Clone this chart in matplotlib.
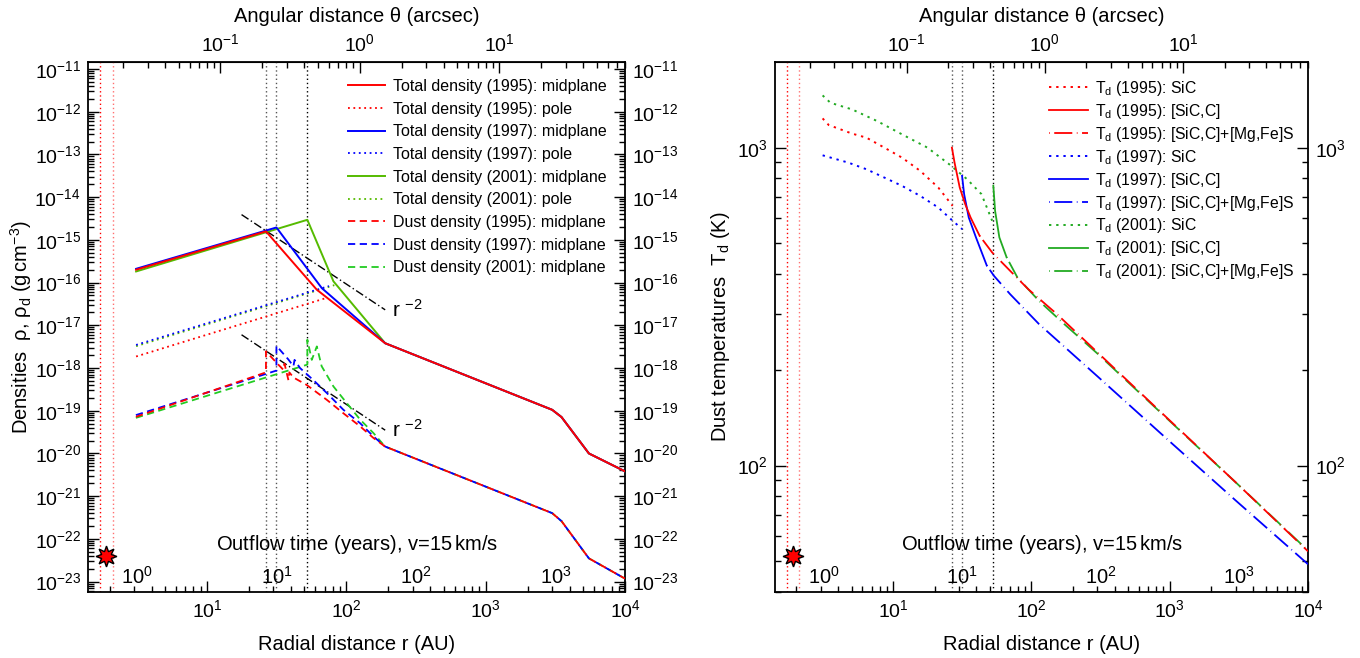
import numpy as np
import matplotlib
matplotlib.use('Agg')
import matplotlib.pyplot as plt
import matplotlib.transforms as mtransforms
from matplotlib.ticker import LogLocator, NullFormatter, FixedLocator

plt.rcParams['font.family'] = ['Liberation Sans', 'DejaVu Sans']
plt.rcParams['mathtext.fontset'] = 'custom'
plt.rcParams['mathtext.rm'] = 'Liberation Sans'
plt.rcParams['mathtext.it'] = 'Liberation Sans:italic'
plt.rcParams['mathtext.bf'] = 'Liberation Sans:bold'

# ---------------- data: left panel (densities, g cm^-3 vs r in AU) ----------------
tot95_r = [3.1, 26.5, 61.4, 190, 3000, 3500, 5500, 10000]
tot95_rho = [2.0e-16, 1.58e-15, 6.8e-17, 3.8e-18, 1.05e-19, 7.1e-20, 1.0e-20, 3.8e-21]
tot97_r = [3.1, 31.5, 66.7, 190, 3000, 3500, 5500, 10000]
tot97_rho = [2.1e-16, 1.95e-15, 7.4e-17, 3.8e-18, 1.05e-19, 7.1e-20, 1.0e-20, 3.8e-21]
tot01_r = [3.1, 52.5, 80.8, 190, 3000, 3500, 5500, 10000]
tot01_rho = [1.82e-16, 2.95e-15, 1.07e-16, 3.8e-18, 1.05e-19, 7.1e-20, 1.0e-20, 3.8e-21]

pole95_r = [3.1, 72.5]
pole95_rho = [1.86e-18, 4.4e-17]
pole97_r = [3.1, 75]
pole97_rho = [3.47e-18, 8.3e-17]
pole01_r = [3.1, 82]
pole01_rho = [3.24e-18, 8.7e-17]

dust95_r = [3.09, 26.5, 26.5, 32.5, 35.3, 36.0, 38.4, 39.0, 41.7, 52.0, 72.4, 95.3,
            125.6, 156.5, 189.7, 3000, 3500, 5500, 10000]
dust95_rho = [7.2e-20, 7.9e-19, 2.45e-18, 1.2e-18, 9.1e-19, 1.26e-18, 5.2e-19, 7.9e-19,
              6.0e-19, 4.0e-19, 1.8e-19, 8.7e-20, 4.3e-20, 2.3e-20, 1.45e-20,
              4.0e-22, 2.6e-22, 3.5e-23, 1.17e-23]
dust97_r = [3.09, 31.5, 31.5, 38.4, 41.7, 42.5, 46.5, 58, 72.4, 95.3, 125.6, 156.5,
            189.7, 3000, 3500, 5500, 10000]
dust97_rho = [7.9e-20, 8.7e-19, 3.3e-18, 1.58e-18, 1.1e-18, 1.55e-18, 1.0e-18, 5.2e-19,
              2.6e-19, 1.05e-19, 5.1e-20, 2.5e-20, 1.45e-20, 4.0e-22, 2.6e-22, 3.5e-23, 1.17e-23]
dust01_r = [3.09, 52.5, 52.5, 56.5, 61.4, 66.5, 80.8, 100, 125.6, 156.5, 189.7,
            3000, 3500, 5500, 10000]
dust01_rho = [6.8e-20, 1.2e-18, 4.6e-18, 1.55e-18, 3.2e-18, 1.1e-18, 3.7e-19, 1.55e-19,
              6.2e-20, 3.0e-20, 1.45e-20, 4.0e-22, 2.6e-22, 3.5e-23, 1.17e-23]

# r^-2 guide lines
guide_r = [17.7, 190]
guide_hi = [3.9e-15, 2.3e-17]
guide_lo = [6.0e-18, 3.5e-20]

# ---------------- data: right panel (dust temperatures, K) ----------------
sic95_r = [3.09, 3.42, 5.05, 6.41, 8.64, 11.6, 15.7, 21.2, 26.9]
sic95_T = [1236, 1178, 1107, 1075, 1000, 930, 845, 749, 656]
c95_r = [26.6, 27.8, 30.3, 33.2, 36.3, 42.2]
c95_T = [1000, 897, 749, 664, 603, 528]
mg95_r = [42.2, 52, 70, 94.6, 152, 300, 1000, 3000, 10000]
mg95_T = [528, 468, 410, 359, 300, 227, 138.6, 88.5, 53.7]

sic97_r = [3.09, 4.75, 6.41, 8.64, 11.6, 15.7, 21.2, 26.9, 31.6]
sic97_T = [946, 897, 855, 805, 758, 705, 648, 589, 554]
c97_r = [31.5, 32.6, 35.2, 39.7, 47.5]
c97_T = [815, 714, 603, 522, 426]
mg97_r = [47.5, 53.6, 70.1, 113, 300, 1000, 3000, 10000]
mg97_T = [426, 395, 346, 279, 190.8, 119, 77.6, 48.9]

sic01_r = [3.09, 3.52, 5.05, 7.67, 11.6, 17.7, 25.4, 34.2, 43.5, 52]
sic01_T = [1460, 1384, 1319, 1212, 1101, 1000, 887, 796, 714, 589]
c01_r = [53, 54.6, 58.6, 66.1]
c01_T = [759, 632, 522, 452]
mg01_r = [66.1, 79, 113, 172, 300, 1000, 3000, 10000]
mg01_T = [452, 391, 330, 279, 225, 138, 88.5, 54]

# markers and reference lines (AU)
star_r = 1.9
rstar_lines = [1.7, 2.1]
shell_lines = [26.5, 31.5, 52.5]
outflow_years = [1, 10, 100, 1000]
au_per_year = 3.164        # 15 km/s
dist_pc = 125.0
rho_ticks = [10.0 ** k for k in range(-23, -10)]
T_ticks = [100, 1000]

red = '#ff0000'
blue = '#0000ff'
green_tot = '#55bb00'
green_dust = '#22cc22'
green_T = '#22aa22'

fig = plt.figure(figsize=(13.6, 6.58), dpi=100)
ax1 = fig.add_axes([0.0647, 0.1003, 0.3949, 0.8055])
ax2 = fig.add_axes([0.5699, 0.1003, 0.3919, 0.8055])
for ax in (ax1, ax2):
    ax.set_xscale('log')
    ax.set_yscale('log')

dot = (0, (1, 2))
dash = (0, (4, 2.5))
longdash = (0, (0.4, 2.5, 10, 2.5))

# left panel
ax1.plot(tot95_r, tot95_rho, color=red, lw=1.4, zorder=5, label='Total density (1995): midplane')
ax1.plot(pole95_r, pole95_rho, color=red, lw=1.3, ls=dot, zorder=5, label='Total density (1995): pole')
ax1.plot(tot97_r, tot97_rho, color=blue, lw=1.4, zorder=4, label='Total density (1997): midplane')
ax1.plot(pole97_r, pole97_rho, color=blue, lw=1.3, ls=dot, zorder=4, label='Total density (1997): pole')
ax1.plot(tot01_r, tot01_rho, color=green_tot, lw=1.4, zorder=3, label='Total density (2001): midplane')
ax1.plot(pole01_r, pole01_rho, color=green_tot, lw=1.3, ls=dot, zorder=3, label='Total density (2001): pole')
ax1.plot(dust95_r, dust95_rho, color=red, lw=1.3, ls=dash, zorder=5, label='Dust density (1995): midplane')
ax1.plot(dust97_r, dust97_rho, color=blue, lw=1.3, ls=dash, zorder=4, label='Dust density (1997): midplane')
ax1.plot(dust01_r, dust01_rho, color=green_dust, lw=1.3, ls=dash, zorder=3, label='Dust density (2001): midplane')

ax1.plot(guide_r, guide_hi, color='black', lw=1.0, ls=(0, (6, 2, 1, 2)))
ax1.plot(guide_r, guide_lo, color='black', lw=1.0, ls=(0, (6, 2, 1, 2)))
ax1.text(guide_r[1] * 1.12, guide_hi[1], r'r $^{-2}$', fontsize=15, va='center', ha='left')
ax1.text(guide_r[1] * 1.12, guide_lo[1], r'r $^{-2}$', fontsize=15, va='center', ha='left')

ax1.set_xlim(1.4, 1e4)
ax1.set_ylim(5.7e-24, 1.46e-11)
ax1.set_ylabel(r'Densities  ρ, ρ$_\mathrm{d}$ (g$\,$cm$^{-3}$)', fontsize=14.5, labelpad=0)
ax1.yaxis.set_major_locator(FixedLocator(rho_ticks))

# right panel
ax2.plot(sic95_r, sic95_T, color=red, lw=1.4, ls=(0, (1.2, 2.5)), zorder=5, label=r'T$_\mathrm{d}$ (1995): SiC')
ax2.plot(c95_r, c95_T, color=red, lw=1.3, zorder=5, label=r'T$_\mathrm{d}$ (1995): [SiC,C]')
ax2.plot(mg95_r, mg95_T, color=red, lw=1.3, ls=longdash, zorder=5, label=r'T$_\mathrm{d}$ (1995): [SiC,C]+[Mg,Fe]S')
ax2.plot(sic97_r, sic97_T, color=blue, lw=1.4, ls=(0, (1.2, 2.5)), zorder=4, label=r'T$_\mathrm{d}$ (1997): SiC')
ax2.plot(c97_r, c97_T, color=blue, lw=1.3, zorder=4, label=r'T$_\mathrm{d}$ (1997): [SiC,C]')
ax2.plot(mg97_r, mg97_T, color=blue, lw=1.3, ls=longdash, zorder=4, label=r'T$_\mathrm{d}$ (1997): [SiC,C]+[Mg,Fe]S')
ax2.plot(sic01_r, sic01_T, color=green_T, lw=1.4, ls=(0, (1.2, 2.5)), zorder=3, label=r'T$_\mathrm{d}$ (2001): SiC')
ax2.plot(c01_r, c01_T, color=green_T, lw=1.3, zorder=3, label=r'T$_\mathrm{d}$ (2001): [SiC,C]')
ax2.plot(mg01_r, mg01_T, color=green_T, lw=1.3, ls=longdash, zorder=3, label=r'T$_\mathrm{d}$ (2001): [SiC,C]+[Mg,Fe]S')

ax2.set_xlim(1.4, 1e4)
ax2.set_ylim(40, 1860)
ax2.set_ylabel(r'Dust temperatures  T$_\mathrm{d}$ (K)', fontsize=14.5, labelpad=4)
ax2.yaxis.set_major_locator(FixedLocator(T_ticks))

for ax in (ax1, ax2):
    for r in rstar_lines:
        ax.axvline(r, color=red if r == rstar_lines[0] else '#ff7070', lw=1.0, ls=dot, zorder=1)
    for i, r in enumerate(shell_lines):
        ax.axvline(r, color='#555555' if i < 2 else 'black', lw=1.0, ls=dot, zorder=1)

    trans = mtransforms.blended_transform_factory(ax.transData, ax.transAxes)
    ax.plot([star_r], [0.068], transform=trans, marker=(8, 1, 0), ms=15, mfc=red,
            mec='black', mew=1.0, ls='none', zorder=6, clip_on=False)
    for t in outflow_years:
        ax.text(t * au_per_year, 0.028, r'$10^{%d}$' % np.log10(t), transform=trans,
                ha='center', va='center', fontsize=14.5)
    ax.text(0.5, 0.089, r'Outflow time (years), v=15$\,$km/s', transform=ax.transAxes,
            ha='center', va='center', fontsize=14.5)

    ax.set_xlabel('Radial distance r (AU)', fontsize=14.5, labelpad=10)
    ax.xaxis.set_major_locator(FixedLocator([10, 100, 1000, 10000]))
    ax.xaxis.set_minor_locator(LogLocator(base=10, subs=np.arange(2, 10), numticks=50))
    ax.xaxis.set_minor_formatter(NullFormatter())
    ax.yaxis.set_minor_locator(LogLocator(base=10, subs=np.arange(2, 10), numticks=100))
    ax.yaxis.set_minor_formatter(NullFormatter())
    ax.tick_params(which='both', direction='in', top=False, right=True, labelright=True,
                   labelsize=14, width=1.0)
    ax.tick_params(which='major', length=8, pad=5)
    ax.tick_params(which='minor', length=4)
    for s in ax.spines.values():
        s.set_linewidth(1.3)

    sec = ax.secondary_xaxis('top', functions=(lambda r: r / dist_pc, lambda th: th * dist_pc))
    sec.xaxis.set_major_locator(FixedLocator([0.1, 1, 10]))
    sec.xaxis.set_minor_locator(LogLocator(base=10, subs=np.arange(2, 10), numticks=50))
    sec.xaxis.set_minor_formatter(NullFormatter())
    sec.tick_params(which='both', direction='in', labelsize=14, width=1.0)
    sec.tick_params(which='major', length=8, pad=5)
    sec.tick_params(which='minor', length=4)
    sec.set_xlabel('Angular distance θ (arcsec)', fontsize=14.5, labelpad=8)

ax1.legend(loc='upper left', bbox_to_anchor=(0.484, 0.968), frameon=False, fontsize=11.5,
           handlelength=2.3, handletextpad=0.5, labelspacing=0.48, borderpad=0,
           borderaxespad=0)
ax2.legend(loc='upper left', bbox_to_anchor=(0.514, 0.968), frameon=False, fontsize=11.3,
           handlelength=2.5, handletextpad=0.45, labelspacing=0.25, borderpad=0,
           borderaxespad=0)

fig.savefig('out.png', dpi=100)
